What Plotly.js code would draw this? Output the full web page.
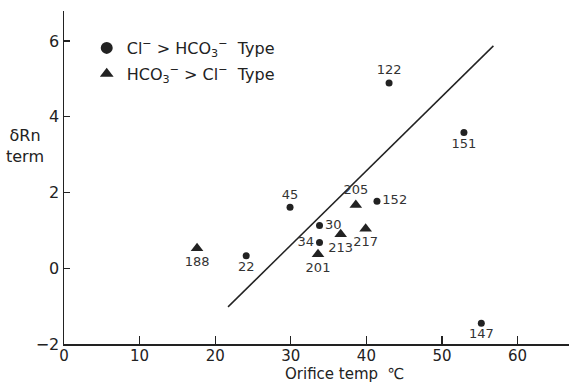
<!DOCTYPE html>
<html><head><meta charset="utf-8">
<script src="https://cdn.plot.ly/plotly-3.0.1.min.js"></script>
<style>html,body{margin:0;padding:0;background:#fff}#c{width:569px;height:384px}</style>
</head><body><div id="c"></div>
<script>
// Cl- > HCO3- type (circles)
const clNames = ["122","151","45","30","152","34","22","147"];
const clTemp  = [43.0, 52.9, 29.9, 33.8, 41.4, 33.8, 24.1, 55.2];
const clRn    = [4.89, 3.58, 1.61, 1.13, 1.77, 0.68, 0.33, -1.45];
// HCO3- > Cl- type (triangles)
const hcNames = ["188","205","213","217","201"];
const hcTemp  = [17.6, 38.6, 36.6, 39.9, 33.6];
const hcRn    = [0.53, 1.67, 0.90, 1.04, 0.37];
// regression line
const lineTemp = [21.7, 56.8];
const lineRn   = [-1.02, 5.87];

const clPos = ["top center","bottom center","top center","middle right","middle right","middle left","bottom center","bottom center"];
const hcPos = ["bottom center","top center","bottom center","bottom center","bottom center"];

const ink = "#222";
const labelFont = {family:"DejaVu Sans, sans-serif", size:13, color:"#333"};

const traces = [
  {x: lineTemp, y: lineRn, mode:"lines", line:{color:ink, width:1.5}, showlegend:false, hoverinfo:"skip"},
  {x: clTemp, y: clRn, text: clNames, textposition: clPos, mode:"markers+text",
   name:"Cl<sup>−</sup> > HCO<sub>3</sub><sup>−</sup>  Type", legendgroup:"a",
   marker:{symbol:"circle", size:7, color:ink}, textfont: labelFont},
  {x: hcTemp, y: hcRn, text: hcNames, textposition: hcPos, mode:"markers+text",
   name:"HCO<sub>3</sub><sup>−</sup> > Cl<sup>−</sup>  Type", legendgroup:"b",
   marker:{symbol:"triangle-up", size:11, color:ink}, textfont: labelFont}
];

const layout = {
  width:569, height:384,
  margin:{l:64, r:0, t:11, b:40},
  paper_bgcolor:"#fff", plot_bgcolor:"#fff",
  font:{family:"DejaVu Sans, sans-serif", color:ink},
  showlegend:true,
  legend:{x:0.045, y:0.94, xanchor:"left", yanchor:"top", bgcolor:"rgba(0,0,0,0)",
          font:{size:16, color:ink, weight:500}, traceorder:"grouped", tracegroupgap:2, itemsizing:"constant"},
  xaxis:{range:[0,66.8], showline:true, linecolor:ink, linewidth:1.5, showgrid:false, zeroline:false,
         ticks:"inside", ticklen:8, tickcolor:ink, tickwidth:1.2, tickvals:[0,10,20,30,40,50,60],
         tickfont:{size:15, color:ink}, ticklabelstandoff:-3},
  yaxis:{range:[-2,6.79], showline:true, linecolor:ink, linewidth:1.5, showgrid:false, zeroline:false,
         ticks:"inside", ticklen:6, tickcolor:ink, tickwidth:1.2, tickvals:[-2,0,2,4,6],
         ticktext:["−2","0","2","4","6"], tickfont:{size:16, color:ink}},
  annotations:[
    {xref:"paper", yref:"paper", x:(344-64)/505, y:-(384-344)/333, yanchor:"bottom", xanchor:"center", showarrow:false,
     text:"Orifice temp  ℃", font:{size:15, color:ink}, borderpad:0},
    {xref:"paper", yref:"paper", x:-0.077, y:(344-146)/333, xanchor:"center", yanchor:"middle", showarrow:false,
     text:"δRn<br>term", font:{size:16, color:ink}, align:"center"}
  ]
};
Plotly.newPlot("c", traces, layout, {displayModeBar:false, staticPlot:true});
</script></body></html>
